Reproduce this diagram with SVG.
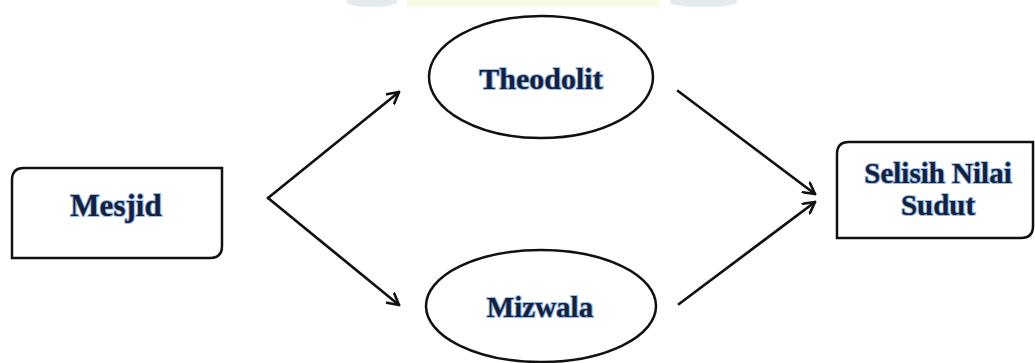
<svg xmlns="http://www.w3.org/2000/svg" width="1035" height="363" viewBox="0 0 1035 363">
  <defs>
    <style>
      .shape { fill: #ffffff; stroke: #111111; stroke-width: 2.5; }
      .lbl { font-family: "Liberation Serif", "Times New Roman", serif; font-weight: bold; font-size: 29px; fill: #14213d; stroke: #6f9fe0; stroke-width: 2.2; stroke-opacity: 0.7; paint-order: stroke; text-anchor: middle; }
      .conn { fill: none; stroke: #111111; stroke-width: 2.7; stroke-linecap: round; stroke-linejoin: round; }
    </style>
    <marker id="arrow" viewBox="0 0 14 14" refX="12" refY="7" markerWidth="14" markerHeight="14" markerUnits="userSpaceOnUse" orient="auto">
      <path d="M 1 1 L 12 7 L 1 13" fill="none" stroke="#111111" stroke-width="2.6" stroke-linecap="round" stroke-linejoin="round"/>
    </marker>
  </defs>
  <rect width="1035" height="363" fill="#ffffff"/>
  <g id="watermark" opacity="0.5">
    <path d="M 347 0 H 397 V 3 Q 390 7 372 7 Q 352 7 347 3 Z" fill="#c9d8e0"/>
    <path d="M 407 0 H 660 V 7 H 407 Z" fill="#f4f6c8"/>
    <path d="M 670 0 H 737 V 3 Q 730 7 705 7 Q 677 7 670 3 Z" fill="#c9d8e0"/>
  </g>
  <g id="connectors">
    <line class="conn" x1="268" y1="198" x2="399" y2="92" marker-end="url(#arrow)"/>
    <line class="conn" x1="268" y1="198" x2="399" y2="305" marker-end="url(#arrow)"/>
    <line class="conn" x1="678" y1="91" x2="815" y2="194" marker-end="url(#arrow)"/>
    <line class="conn" x1="679" y1="304" x2="815" y2="202" marker-end="url(#arrow)"/>
  </g>
  <g id="node-mesjid">
    <path class="shape" d="M 24 168 H 222 V 246 Q 222 258 210 258 H 12 V 180 Q 12 168 24 168 Z"/>
    <text class="lbl" x="116" y="216" style="font-size:31px">Mesjid</text>
  </g>
  <g id="node-theodolit">
    <ellipse class="shape" cx="541" cy="77" rx="112" ry="61"/>
    <text class="lbl" x="541" y="89" style="font-size:30px">Theodolit</text>
  </g>
  <g id="node-mizwala">
    <ellipse class="shape" cx="541" cy="306" rx="115" ry="56"/>
    <text class="lbl" x="540" y="317">Mizwala</text>
  </g>
  <g id="node-selisih">
    <path class="shape" d="M 849 142 H 1033 V 226 Q 1033 238 1021 238 H 837 V 154 Q 837 142 849 142 Z"/>
    <text class="lbl" x="938" y="183">Selisih Nilai</text>
    <text class="lbl" x="938" y="215">Sudut</text>
  </g>
</svg>
